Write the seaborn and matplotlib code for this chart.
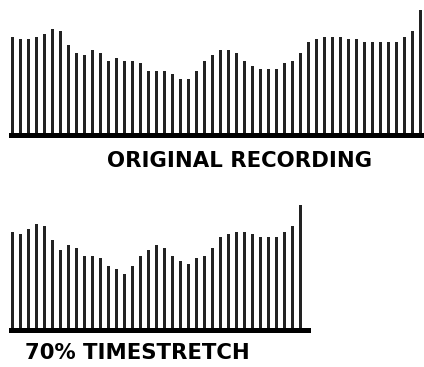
import matplotlib
matplotlib.use("Agg")
import matplotlib.pyplot as plt
import seaborn as sns
import pandas as pd

# Data: bar amplitudes
original = [37, 36, 36, 37, 38, 40, 39, 34, 31, 30, 32, 31, 28, 29, 28, 28, 27,
            24, 24, 24, 23, 21, 21, 24, 28, 30, 32, 32, 31, 28, 26, 25, 25, 25,
            27, 28, 31, 35, 36, 37, 37, 37, 36, 36, 35, 35, 35, 35, 35, 37, 39, 47]
stretched = [37, 36, 38, 40, 39, 34, 30, 32, 31, 28, 28, 27, 24, 23, 21, 24, 28,
             30, 32, 31, 28, 26, 25, 27, 28, 31, 35, 36, 37, 37, 36, 35, 35, 35,
             37, 39, 47]
labels = ["ORIGINAL RECORDING", "70% TIMESTRETCH"]

sns.set_theme(style="white")
plt.rcParams['font.family'] = ['DejaVu Sans']

W, H = 424, 367
fig = plt.figure(figsize=(W / 100, H / 100), dpi=100)
fig.patch.set_facecolor("white")

px_per_unit = 8 / 3
zero_px = 135.3
ylim = (zero_px - 145) / px_per_unit, zero_px / px_per_unit
xlim = (-12.7 / 8, (W - 12.7) / 8)


def panel(top_px, vals, strip_right_px):
    ax = fig.add_axes([0, (H - top_px - 145) / H, 1, 145 / H])
    df = pd.DataFrame({"i": range(len(vals)), "v": vals})
    sns.barplot(data=df, x="i", y="v", width=0.375, color="#222222",
                linewidth=0, saturation=1, ax=ax)
    ax.set_xlim(*xlim)
    ax.set_ylim(*ylim)
    ax.axhspan(-1.125, 0.75, xmin=9 / W, xmax=strip_right_px / W,
               color="black", lw=0)
    ax.axis("off")
    return ax


panel(0, original, W)
panel(195, stretched, 311)

fig.text(240 / W, (H - 167) / H, labels[0], ha="center", va="baseline",
         fontsize=15.3, fontweight="bold", color="black")
fig.text(25 / W, (H - 359) / H, labels[1], ha="left", va="baseline",
         fontsize=15.3, fontweight="bold", color="black")

fig.savefig("out.png", dpi=100, facecolor="white")
